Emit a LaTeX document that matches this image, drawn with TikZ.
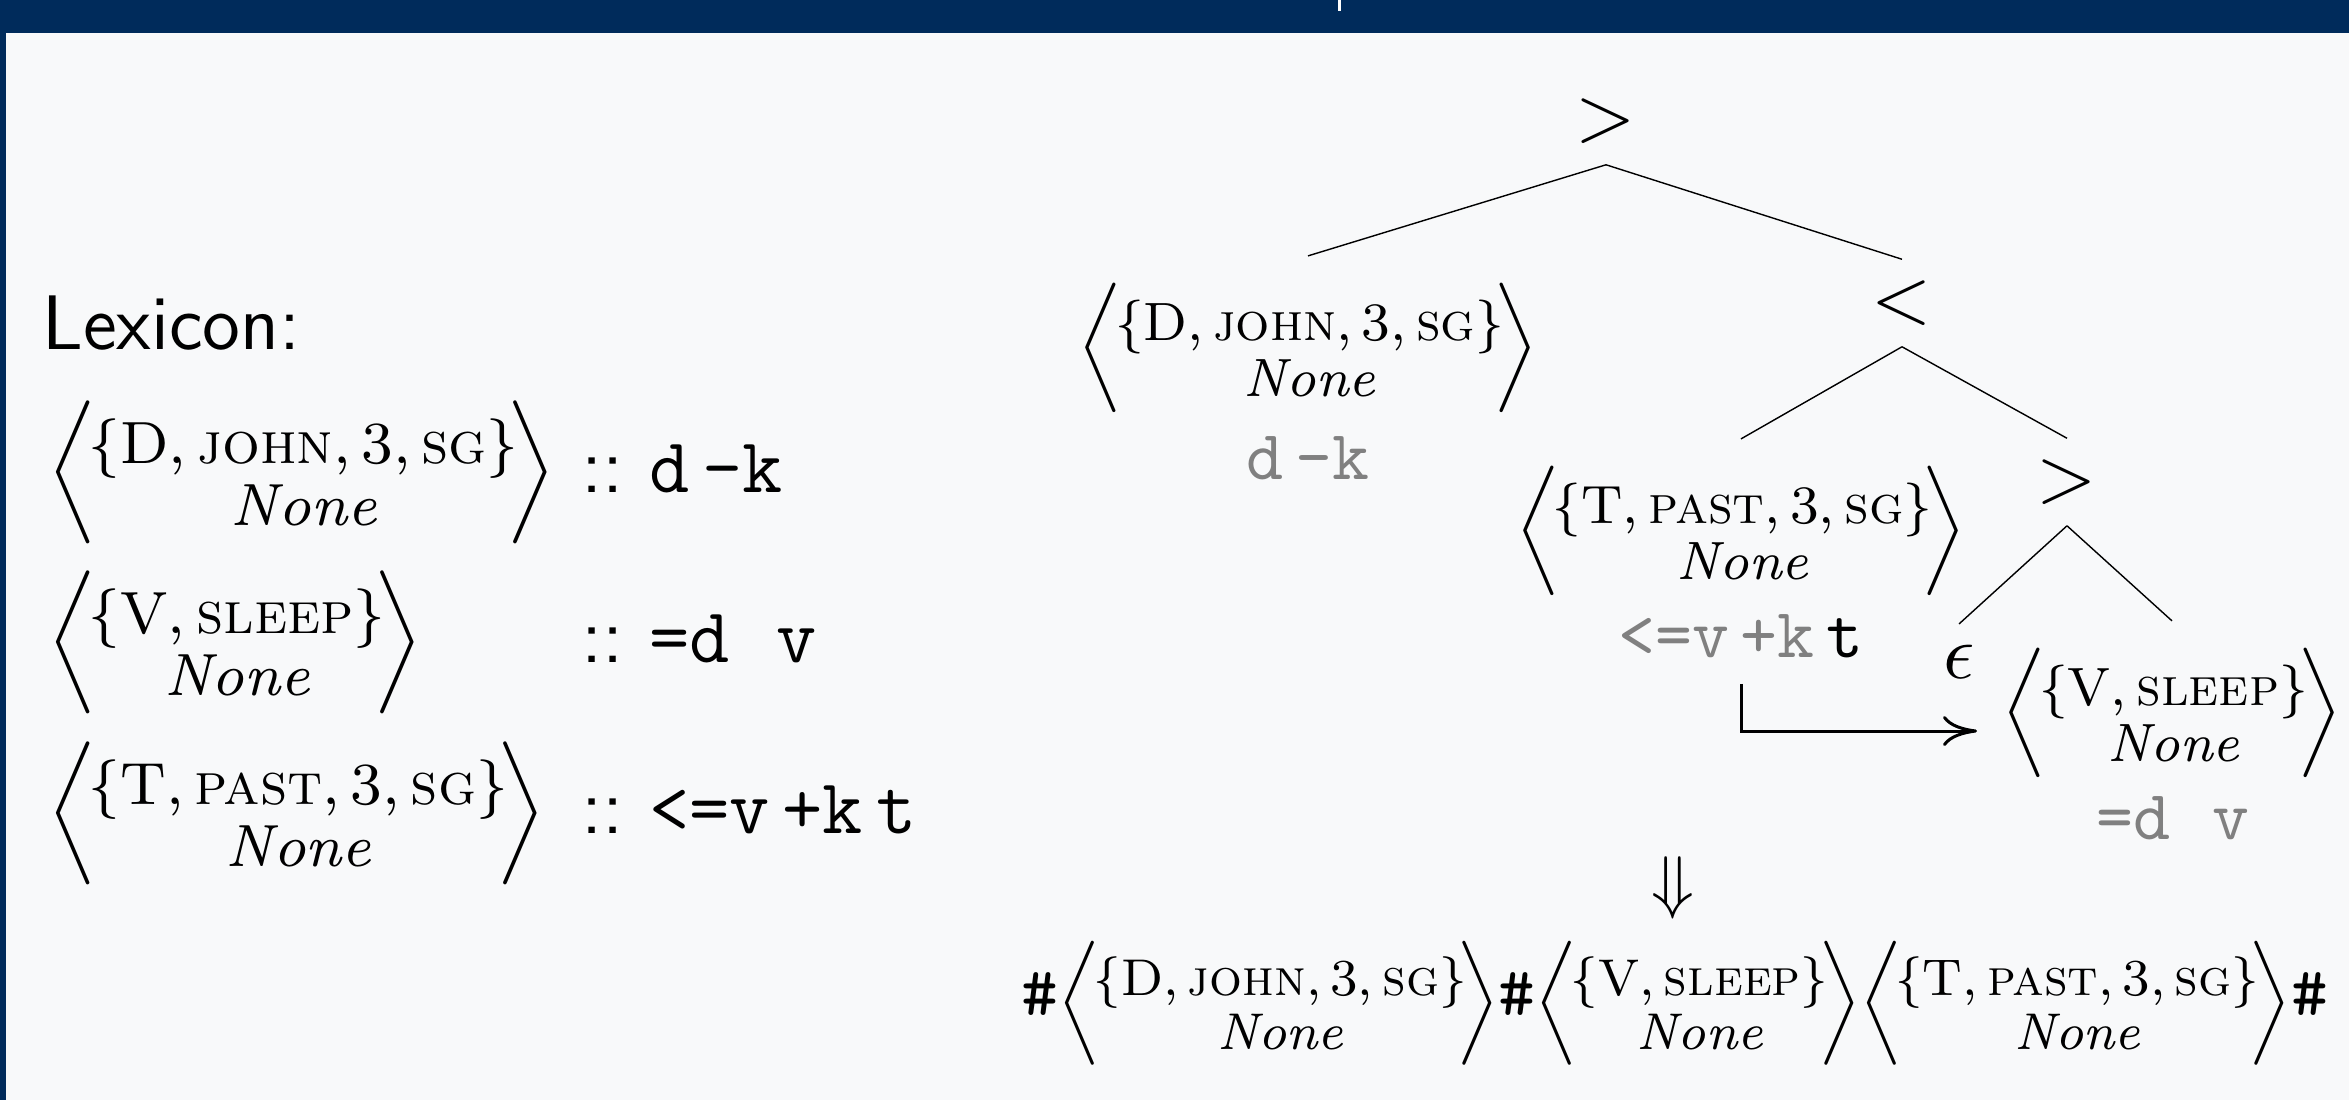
\RequirePackage{fix-cm}
\documentclass[tikz,border=0pt]{standalone}
\usepackage{amsmath,graphicx}
\usepackage{fontspec}
\usetikzlibrary{arrows.meta,positioning}
\definecolor{slidebg}{RGB}{248,249,250}
\definecolor{slideblue}{RGB}{0,43,91}
\definecolor{usedgray}{RGB}{128,128,128}

% lexical item < {cat} / None >, optionally scaled
\newcommand{\lexitem}[2][1]{\scalebox{#1}{$\left\langle\mkern-2mu\begin{array}{@{}c@{}}\rule{0pt}{1.07em}#2\\ \textit{None}\end{array}\mkern-3mu\right\rangle$}}
\newcommand{\used}[1]{\textcolor{usedgray}{#1}}
\newcommand{\catjohn}{\{\mathrm{D},\textsc{john},3,\textsc{sg}\}}
\newcommand{\catsleep}{\{\mathrm{V},\textsc{sleep}\}}
\newcommand{\catpast}{\{\mathrm{T},\textsc{past},3,\textsc{sg}\}}
\newcommand{\bnd}{{\fontsize{10}{10}\selectfont\ttfamily\#}}

\begin{document}
\begin{tikzpicture}[x=0.5cm, y=0.5cm,
    lexbox/.style={inner sep=0pt, font=\fontsize{8}{8.4}\selectfont},
    featlex/.style={inner sep=0pt, font=\fontsize{11.1}{11.1}\selectfont\sffamily},
    leafbox/.style={inner sep=0.125cm, font=\fontsize{8}{8.4}\selectfont},
    feattree/.style={inner sep=0pt, font=\fontsize{10}{10}\selectfont\ttfamily},
    mergeop/.style={inner sep=0.1cm, font=\fontsize{11}{11}\selectfont},
    branch/.style={very thin, black},
    movearrow/.style={-{Computer Modern Rightarrow[length=1.7mm,width=1.5mm]}, line width=0.43pt}
  ]
    \useasboundingbox (0,0) rectangle (23.49,11);
    % Slide frame
    \fill[slidebg] (0,0) rectangle (23.49,11);
    \fill[slideblue] (0,10.67) rectangle (23.49,11);
    \fill[slideblue] (0,0) rectangle (0.06,11);
    \fill[white] (13.38,10.89) rectangle (13.41,11);

    % Lexicon
    \node[anchor=base west, inner sep=0pt, font=\fontsize{11}{11}\selectfont\sffamily] (lextitle) at (0.41,7.51) {Lexicon:};
    \node[lexbox, anchor=west] (lexjohn)  at (0.47,6.28) {\lexitem[1.06]{\catjohn}};
    \node[lexbox, anchor=west] (lexsleep) at (0.47,4.58) {\lexitem[1.06]{\catsleep}};
    \node[lexbox, anchor=west] (lexpast)  at (0.47,2.87) {\lexitem[1.06]{\catpast}};
    \node[featlex, anchor=base west] (featjohn)  at (5.80,6.08) {::\ \texttt{d}\,\texttt{-k}};
    \node[featlex, anchor=base west] (featsleep) at (5.80,4.38) {::\ \texttt{=d}\hspace{0.6em}\texttt{v}};
    \node[featlex, anchor=base west] (featpast)  at (5.80,2.67) {::\ \texttt{<=v}\,\texttt{+k}\,\texttt{t}};

    % Derivation tree
    \node[mergeop] (root) at (16.06,9.79) {$>$};
    \node[leafbox] (tjohn) at (13.08,7.52) {\lexitem[0.96]{\catjohn}};
    \node[feattree, anchor=base] (tjohnf) at (13.08,6.21) {\used{\texttt{d}\,\texttt{-k}}};
    \node[mergeop] (lt) at (19.02,7.97) {$<$};
    \node[leafbox] (tpast) at (17.41,5.69) {\lexitem[0.96]{\catpast}};
    \node[feattree, anchor=base] (tpastf) at (17.41,4.43) {\used{\texttt{<=v}\,\texttt{+k}}\,\texttt{t}};
    \node[mergeop] (gt) at (20.67,6.18) {$>$};
    \node[mergeop] (eps) at (19.59,4.38) {$\epsilon$};
    \node[leafbox] (tsleep) at (21.72,3.87) {\lexitem[0.96]{\catsleep}};
    \node[feattree, anchor=base] (tsleepf) at (21.73,2.61) {\used{\texttt{=d}\hspace{0.6em}\texttt{v}}};

    % Branches
    \draw[branch] (root.south) -- (tjohn.north);
    \draw[branch] (root.south) -- (lt.north);
    \draw[branch] (lt.south) -- (tpast.north);
    \draw[branch] (lt.south) -- (gt.north);
    \draw[branch] (gt.south) -- (eps.north);
    \draw[branch] (gt.south) -- (tsleep.north);

    % Head movement
    \coordinate (mvend) at (19.77,3.69);
    \draw[movearrow, shorten <=0.125cm] (tpastf.south) |- (mvend);

    % Resulting string
    \node[inner sep=0pt, font=\fontsize{10}{10}\selectfont] (yield) at (16.73,2.12) {$\Downarrow$};
    \node[inner sep=0pt, font=\fontsize{8}{8.4}\selectfont] (string) at (16.75,0.97)
      {\bnd\lexitem[0.92]{\catjohn}\bnd\lexitem[0.92]{\catsleep}\lexitem[0.92]{\catpast}\bnd};
\end{tikzpicture}
\end{document}
